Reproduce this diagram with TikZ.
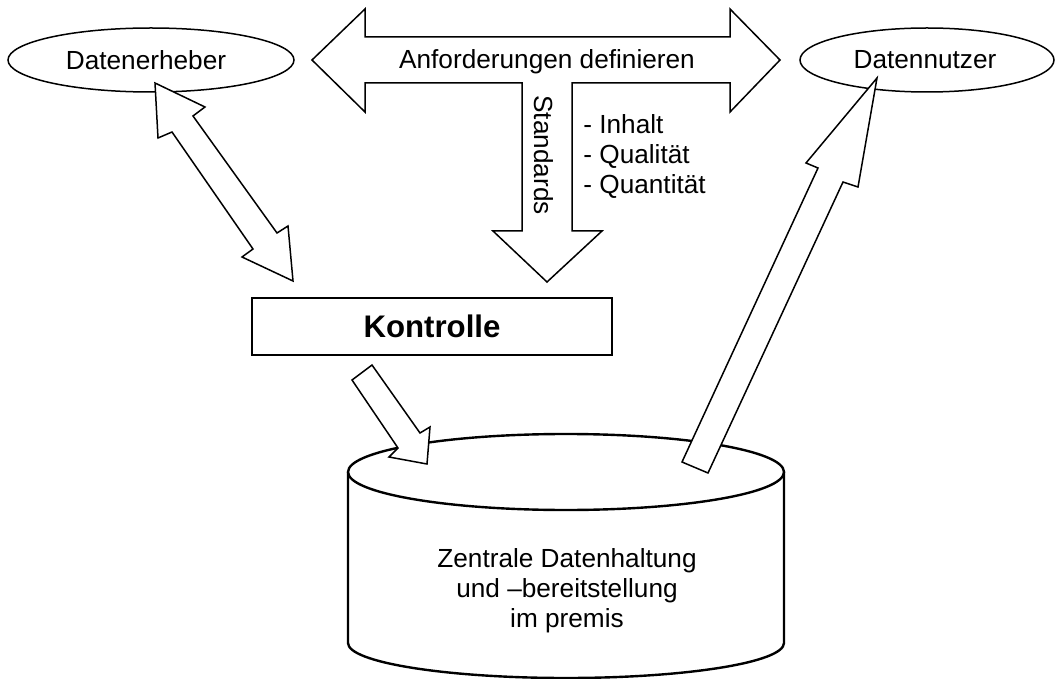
\documentclass[tikz,border=0pt]{standalone}
\usepackage{fontspec}
\setmainfont{Liberation Sans}
\usetikzlibrary{shapes.geometric}
\begin{document}
\begin{tikzpicture}[x=0.5pt,y=-0.5pt,line join=miter,
  blk/.style={draw=black,fill=white,line width=0.75pt},
  cyl/.style={draw=black,fill=white,line width=1.2pt},
  txt/.style={font=\fontsize{13.1}{15}\selectfont,inner sep=0pt},
  oval/.style={ellipse,draw=black,fill=white,line width=0.75pt,inner sep=0pt,
    font=\fontsize{13.1}{15}\selectfont},
  box/.style={rectangle,draw=black,fill=white,line width=0.9pt,inner sep=0pt,
    font=\fontsize{15.6}{18}\selectfont\bfseries}]
\useasboundingbox (0,0) rectangle (1060,679);

% ellipses
\node[oval,minimum width=143pt,minimum height=32pt] (erheber) at (151,60) {};
\node[txt] (erhebertxt) at (146,60) {Datenerheber};
\node[oval,minimum width=127pt,minimum height=32pt] (nutzer) at (927,60) {};
\node[txt] (nutzertxt) at (925,60) {Datennutzer};

% top T-shaped arrow
\draw[blk] (312,60) -- (365,9) -- (365,37) -- (730,37) -- (730,9) -- (780,60)
  -- (730,112) -- (730,83) -- (572,83) -- (572,231) -- (602,231) -- (547,282)
  -- (493,231) -- (522,231) -- (522,83) -- (365,83) -- (365,112) -- cycle;
\node[txt,anchor=base] (anf) at (547,69) {Anforderungen definieren};
\node[txt,rotate=-90] (std) at (543.5,155) {Standards};
\node[txt,anchor=north west,align=left] (list) at (583,114)
  {- Inhalt\\- Qualität\\- Quantität};

% left double arrow
\draw[blk] (155,83) -- (205,107) -- (193,116) -- (277,233) -- (288,226)
  -- (293,281) -- (242,257) -- (253,249) -- (172,132) -- (158,138) -- cycle;

% Kontrolle
\node[box,minimum width=180pt,minimum height=28.5pt] (kontrolle) at (432,326.5) {Kontrolle};

% cylinder
\draw[cyl] (348,472) -- (348,643) arc[start angle=180,end angle=0,x radius=218,y radius=35]
  -- (784,472);
\draw[cyl] (566,472) ellipse[x radius=218,y radius=38];
\node[txt,align=center] (db) at (567,591)
  {Zentrale Datenhaltung\\und –bereitstellung\\im premis};

% arrow Kontrolle -> cylinder
\draw[blk] (352,380) -- (372,365) -- (420,433) -- (430,427) -- (427,464)
  -- (389,457) -- (398,448) -- cycle;

% arrow cylinder -> Datennutzer
\draw[blk] (877,78) -- (858,187) -- (843,182) -- (708,473) -- (682,462)
  -- (818,168) -- (806,163) -- cycle;
\end{tikzpicture}
\end{document}
